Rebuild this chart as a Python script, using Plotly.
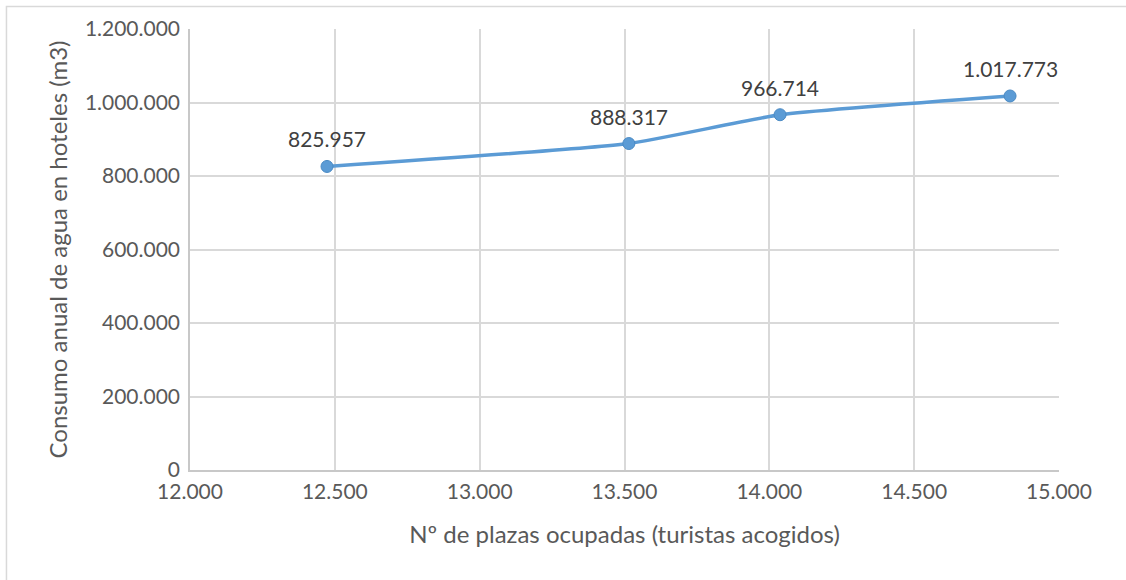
import plotly.graph_objects as go

plazas = [12473, 13515, 14037, 14831]
consumo = [825957, 888317, 966714, 1017773]

x_ticks = [12000, 12500, 13000, 13500, 14000, 14500, 15000]
y_ticks = [0, 200000, 400000, 600000, 800000, 1000000, 1200000]

def fmt(v):
    return f"{v:,}".replace(",", ".")

FONT = "Lato"
BLUE = "#5B9BD5"
GRID = "#D9D9D9"
TXT = "#595959"

fig = go.Figure()
fig.add_trace(go.Scatter(
    x=plazas, y=consumo, mode="lines+markers",
    line=dict(color=BLUE, width=3.5, shape="spline", smoothing=0.45),
    marker=dict(color=BLUE, size=12, line=dict(color="#4A8AC4", width=1)),
    hoverinfo="skip", showlegend=False,
))

annotations = [
    dict(x=xv, y=yv, text=fmt(yv), showarrow=False, xanchor="center", yanchor="bottom",
         yshift=13, font=dict(family=FONT, size=21, color="#404040"))
    for xv, yv in zip(plazas, consumo)
]

fig.update_layout(
    width=1126, height=580,
    margin=dict(l=190, r=67, t=29, b=110),
    paper_bgcolor="white", plot_bgcolor="white",
    separators=",.",
    font=dict(family=FONT, size=21, color=TXT),
    annotations=annotations,
    shapes=[dict(type="rect", xref="paper", yref="paper",
                 x0=-0.2112, x1=1.2, y0=-0.3, y1=1.051,
                 line=dict(color="#D9D9D9", width=1.5), fillcolor="rgba(0,0,0,0)", layer="below")],
    xaxis=dict(
        range=[12000, 15000], tickvals=x_ticks, ticktext=[fmt(v) for v in x_ticks],
        showgrid=True, gridcolor=GRID, gridwidth=1.5, automargin=False,
        showline=True, linecolor="#C8C8C8", linewidth=1.5,
        ticks="", zeroline=False, ticklabelstandoff=2,
        tickfont=dict(family=FONT, size=21, color=TXT),
        title=dict(text="Nº de plazas ocupadas (turistas acogidos)", standoff=24,
                   font=dict(family=FONT, size=24, color=TXT)),
    ),
    yaxis=dict(
        range=[0, 1200000], tickvals=y_ticks, ticktext=[fmt(v) for v in y_ticks],
        showgrid=True, gridcolor=GRID, gridwidth=1.5, automargin=False,
        showline=True, linecolor="#C8C8C8", linewidth=1.5,
        ticks="", zeroline=False, ticklabelstandoff=4,
        tickfont=dict(family=FONT, size=21, color=TXT),
        title=dict(text="Consumo anual de agua en hoteles (m3)", standoff=10,
                   font=dict(family=FONT, size=24, color=TXT)),
    ),
)

fig.write_html("out.html", config={"displayModeBar": False},
               post_script="document.body.style.margin='0';")
